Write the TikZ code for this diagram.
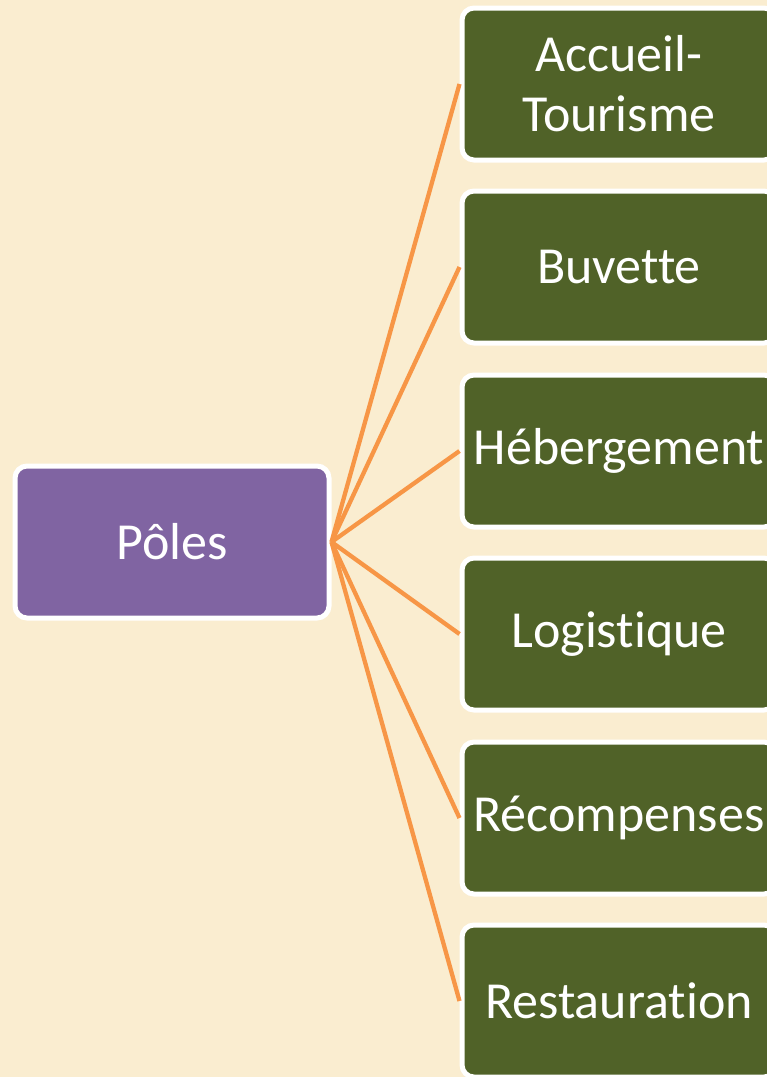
\documentclass[tikz,border=0pt]{standalone}
\usepackage{fontspec}
\setmainfont{Carlito}[Ligatures=NoCommon]
\definecolor{parch}{RGB}{250,237,208}
\definecolor{polepurple}{RGB}{128,100,162}
\definecolor{olivegreen}{RGB}{80,98,40}
\definecolor{linkorange}{RGB}{247,150,70}
\begin{document}
\begin{tikzpicture}[x=1pt,y=-1pt,
  box/.style={rectangle, rounded corners=12pt, draw=white, line width=5pt,
    minimum width=314pt, minimum height=152pt, text=white, align=center,
    font=\fontsize{52}{60}\selectfont, inner sep=0pt},
  hub/.style={box, fill=polepurple},
  leaf/.style={box, fill=olivegreen},
  link/.style={draw=linkorange, line width=4.3pt}]
\useasboundingbox (0,0) rectangle (767,1077);
\clip (0,0) rectangle (767,1077);
\fill[parch] (0,0) rectangle (767,1077);
\node[hub] (poles) at (172,542) {Pôles};
\node[leaf] (a) at (619,84) {Accueil-\\Tourisme};
\node[leaf] (b) at (619,267) {Buvette};
\node[leaf] (c) at (619,451) {Hébergement};
\node[leaf] (d) at (619,634) {Logistique};
\node[leaf] (e) at (619,818) {Récompenses};
\node[leaf] (f) at (619,1001) {Restauration};
\foreach \n in {a,b,c,d,e,f}
  \draw[link] (poles.east) -- (\n.west);
\end{tikzpicture}
\end{document}
